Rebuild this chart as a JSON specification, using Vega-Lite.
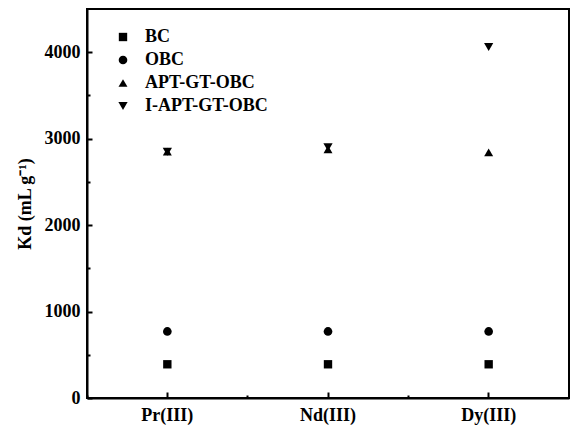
{
  "$schema": "https://vega.github.io/schema/vega-lite/v6.json",
  "width": 482,
  "height": 389,
  "autosize": {"type": "none"},
  "padding": {"left": 87, "top": 9, "right": 1, "bottom": 30},
  "background": "white",
  "config": {
    "view": {"stroke": "black", "strokeWidth": 2},
    "font": "Liberation Serif",
    "axis": {"labelFont": "Liberation Serif", "titleFont": "Liberation Serif", "labelFontWeight": "bold", "titleFontWeight": "bold", "labelColor": "black", "titleColor": "black", "domainColor": "black", "tickColor": "black", "grid": false},
    "legend": {"labelFontSize": 18, "labelFont": "Liberation Serif", "labelFontWeight": "bold", "labelColor": "black", "symbolFillColor": "black", "symbolStrokeColor": "black", "rowPadding": 5, "labelOffset": 13}
  },
  "data": {
    "values": [
      {"ion": "Pr(III)", "sample": "BC", "kd": 390},
      {"ion": "Nd(III)", "sample": "BC", "kd": 390},
      {"ion": "Dy(III)", "sample": "BC", "kd": 390},
      {"ion": "Pr(III)", "sample": "OBC", "kd": 770},
      {"ion": "Nd(III)", "sample": "OBC", "kd": 770},
      {"ion": "Dy(III)", "sample": "OBC", "kd": 770},
      {"ion": "Pr(III)", "sample": "APT-GT-OBC", "kd": 2850},
      {"ion": "Nd(III)", "sample": "APT-GT-OBC", "kd": 2875},
      {"ion": "Dy(III)", "sample": "APT-GT-OBC", "kd": 2840},
      {"ion": "Pr(III)", "sample": "I-APT-GT-OBC", "kd": 2850},
      {"ion": "Nd(III)", "sample": "I-APT-GT-OBC", "kd": 2900},
      {"ion": "Dy(III)", "sample": "I-APT-GT-OBC", "kd": 4060}
    ]
  },
  "layer": [
    {
      "mark": {"type": "point", "filled": true, "opacity": 1, "color": "black"},
      "encoding": {
        "x": {
          "field": "ion", "type": "nominal", "sort": ["Pr(III)", "Nd(III)", "Dy(III)"],
          "scale": {"type": "band", "paddingInner": 0, "paddingOuter": 0},
          "axis": {"title": null, "labelAngle": 0, "labelFontSize": 18, "domainWidth": 2, "tickSize": -6, "tickWidth": 2, "labelPadding": 14, "orient": "bottom"}
        },
        "y": {
          "field": "kd", "type": "quantitative",
          "scale": {"domain": [0, 4500], "nice": false},
          "axis": {"title": "Kd (mL g⁻¹)", "titleFontSize": 18, "labelFontSize": 18, "values": [0, 1000, 2000, 3000, 4000], "format": "d", "domainWidth": 2, "tickSize": -5, "tickWidth": 2, "labelPadding": 12, "titlePadding": 10, "orient": "left", "labelBaseline": "middle"}
        },
        "shape": {
          "field": "sample", "type": "nominal",
          "sort": ["BC", "OBC", "APT-GT-OBC", "I-APT-GT-OBC"],
          "scale": {"domain": ["BC", "OBC", "APT-GT-OBC", "I-APT-GT-OBC"], "range": ["square", "circle", "triangle-up", "triangle-down"]},
          "legend": {"title": null, "orient": "none", "legendX": 27, "legendY": 19}
        },
        "size": {
          "field": "sample", "type": "nominal",
          "sort": ["BC", "OBC", "APT-GT-OBC", "I-APT-GT-OBC"],
          "scale": {"domain": ["BC", "OBC", "APT-GT-OBC", "I-APT-GT-OBC"], "range": [70, 85, 140, 140]},
          "legend": {"title": null, "orient": "none", "legendX": 27, "legendY": 19}
        }
      }
    },
    {
      "mark": {"type": "point", "opacity": 0},
      "encoding": {
        "x": {
          "field": "ion", "type": "nominal", "sort": ["Pr(III)", "Nd(III)", "Dy(III)"],
          "scale": {"type": "band", "paddingInner": 0, "paddingOuter": 0},
          "axis": {"title": null, "labels": false, "domain": false, "bandPosition": 0, "tickSize": -3, "tickWidth": 2, "orient": "bottom"}
        },
        "y": {
          "field": "kd", "type": "quantitative",
          "scale": {"domain": [0, 4500], "nice": false},
          "axis": {"title": null, "labels": false, "domain": false, "values": [500, 1500, 2500, 3500], "tickSize": -3, "tickWidth": 2, "orient": "left"}
        }
      }
    }
  ],
  "resolve": {"axis": {"x": "independent", "y": "independent"}}
}
